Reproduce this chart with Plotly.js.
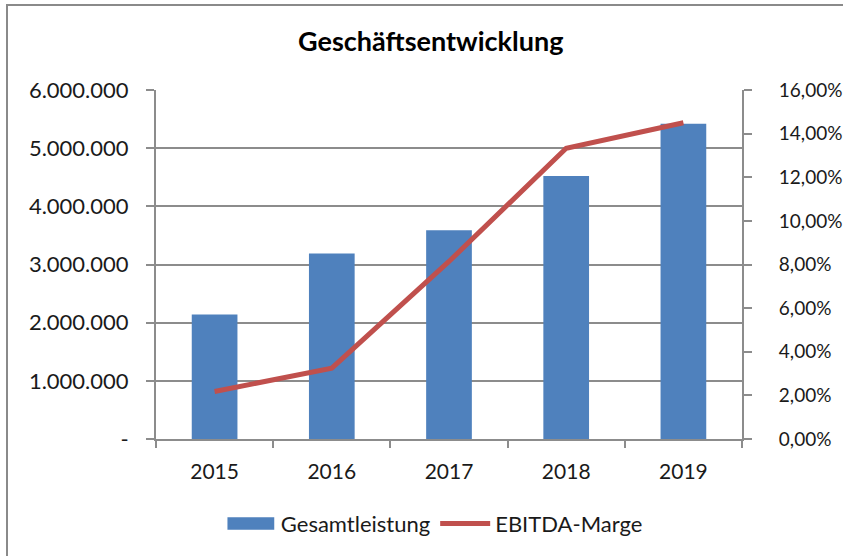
<!DOCTYPE html>
<html>
<head>
<meta charset="utf-8">
<script src="https://cdn.plot.ly/plotly-3.0.1.min.js"></script>
<style>
  html, body { margin: 0; padding: 0; background: #ffffff; overflow: hidden; }
  #chart { width: 843px; height: 556px; position: absolute; left: 0; top: 0; }
  #frame { position: absolute; left: 6px; top: 4px; width: 2000px; height: 2000px;
           border: 2px solid #8a8a8a; pointer-events: none; box-sizing: border-box; }
</style>
</head>
<body>
<div id="chart"></div>
<div id="frame"></div>
<script>
// ---- data ----
const years = ['2015', '2016', '2017', '2018', '2019'];
const gesamtleistung = [2140000, 3190000, 3590000, 4520000, 5420000];
const ebitdaMarge = [2.18, 3.25, 8.14, 13.33, 14.5];   // percent

const leftTickVals = [0, 1000000, 2000000, 3000000, 4000000, 5000000, 6000000];
const leftTickText = ['-', '1.000.000', '2.000.000', '3.000.000', '4.000.000', '5.000.000', '6.000.000'];
const rightTickVals = [0, 2, 4, 6, 8, 10, 12, 14, 16];
const rightTickText = ['0,00%', '2,00%', '4,00%', '6,00%', '8,00%', '10,00%', '12,00%', '14,00%', '16,00%'];

const FONT = 'Lato, "Open Sans", sans-serif';
const TEXT = '#1a1a1a';
const GRID = '#8c8c8c';

const traces = [
  {
    type: 'bar',
    name: 'Gesamtleistung',
    x: years,
    y: gesamtleistung,
    marker: { color: '#4F81BD', line: { width: 0 } },
    yaxis: 'y',
    hoverinfo: 'skip'
  },
  {
    type: 'scatter',
    mode: 'lines',
    name: 'EBITDA-Marge',
    x: years,
    y: ebitdaMarge,
    line: { color: '#C0504D', width: 5 },
    yaxis: 'y2',
    hoverinfo: 'skip'
  }
];

const layout = {
  width: 843,
  height: 556,
  paper_bgcolor: '#ffffff',
  plot_bgcolor: '#ffffff',
  font: { family: FONT, size: 21, color: TEXT },
  separators: ',.',
  margin: { l: 156, r: 101, t: 90, b: 116, pad: 0 },
  bargap: 0.61,
  showlegend: true,
  title: {
    text: '<b>Geschäftsentwicklung</b>',
    font: { family: FONT, size: 27, color: '#000000' },
    x: 0.511, xanchor: 'center', xref: 'container',
    y: 0.925, yanchor: 'middle', yref: 'container'
  },
  xaxis: {
    type: 'category',
    showline: true, linecolor: GRID, linewidth: 2,
    ticks: 'outside', ticklen: 7, tickwidth: 2, tickcolor: GRID,
    tickson: 'boundaries',
    showgrid: false, zeroline: false,
    tickfont: { size: 21, color: TEXT },
    ticklabelstandoff: 13
  },
  yaxis: {
    range: [0, 6000000],
    tickmode: 'array', tickvals: leftTickVals, ticktext: leftTickText,
    showline: true, linecolor: GRID, linewidth: 2,
    ticks: 'outside', ticklen: 8, tickwidth: 2, tickcolor: GRID,
    showgrid: true, gridcolor: GRID, gridwidth: 2,
    zeroline: false,
    tickfont: { size: 22, color: TEXT },
    ticklabelstandoff: 13
  },
  yaxis2: {
    overlaying: 'y', side: 'right',
    range: [0, 16],
    tickmode: 'array', tickvals: rightTickVals, ticktext: rightTickText,
    showline: true, linecolor: GRID, linewidth: 2,
    ticks: 'outside', ticklen: 8, tickwidth: 2, tickcolor: GRID,
    showgrid: false, zeroline: false,
    tickfont: { size: 19, color: TEXT },
    ticklabelstandoff: 23
  },
  legend: {
    orientation: 'h',
    x: 0.475, xanchor: 'center',
    y: -0.239, yanchor: 'middle',
    font: { size: 22, color: TEXT },
    itemwidth: 50,
    bgcolor: 'rgba(0,0,0,0)'
  }
};

Plotly.newPlot('chart', traces, layout, { displayModeBar: false, staticPlot: true }).then(function (gd) {
  // widen the bar legend swatch into a flat rectangle like the original
  const items = gd.querySelectorAll('.legend .traces');
  if (items.length > 0) {
    const p = items[0].querySelector('.legendpoints path');
    if (p) {
      const t = p.getAttribute('transform') || '';
      p.setAttribute('transform', t + ' scale(3.9,1.05)');
    }
  }
});
</script>
</body>
</html>
